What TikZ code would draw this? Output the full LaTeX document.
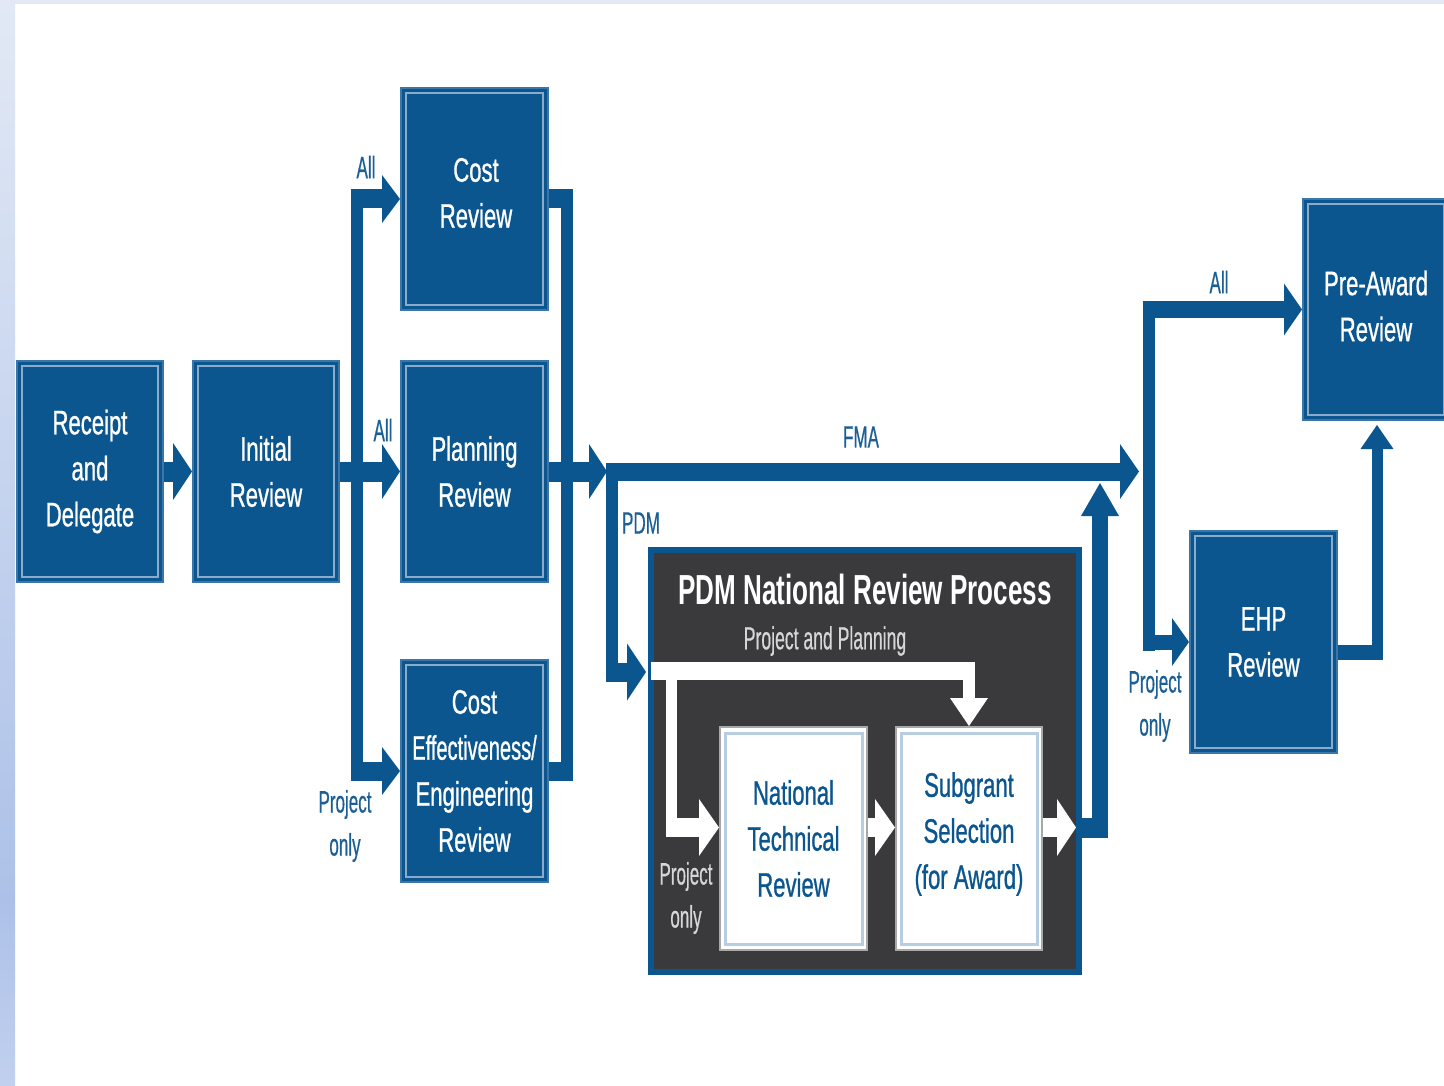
\documentclass[tikz,border=0pt]{standalone}
\usepackage{fontspec}
\setmainfont{Liberation Sans}[FakeStretch=0.65,FakeBold=0.8]
\newfontfamily\lblfont{Liberation Sans}[FakeStretch=0.55,FakeBold=0.4]
\newfontfamily\ttlfont{Liberation Sans}[FakeStretch=0.62]
\newfontfamily\narrowfont{Liberation Sans}[FakeStretch=0.59,FakeBold=0.8]
\usetikzlibrary{arrows.meta,calc}
\definecolor{fblue}{HTML}{0B568F}
\definecolor{edgeblue}{HTML}{3A77A8}
\definecolor{innerblue}{HTML}{8AACCA}
\definecolor{lblblue}{HTML}{1A5F96}
\definecolor{darkfill}{HTML}{3A3A3C}
\definecolor{lgray}{HTML}{D6D6D6}
\definecolor{wbinner}{HTML}{B7CDE1}
\definecolor{wbedge}{HTML}{A8A8A8}
\definecolor{bgA}{HTML}{E2E9F5}
\definecolor{bgB}{HTML}{ADC1E8}
\definecolor{bgC}{HTML}{C1D0EE}
\tikzset{
 bluebox/.style={fill=fblue, draw=edgeblue, line width=2pt, inner sep=0pt, text=white, align=center,
   font=\fontsize{34}{46}\selectfont, minimum width=146pt, minimum height=221pt},
 whitebox/.style={fill=white, draw=wbedge, line width=2pt, inner sep=0pt, text=fblue, align=center,
   font=\fontsize{34}{46}\selectfont, minimum width=146pt, minimum height=222pt},
 lbl/.style={text=lblblue, font=\lblfont\fontsize{31}{43}\selectfont, align=center, inner sep=0pt},
 bbar/.style={draw=fblue, line width=#1},
 wbar/.style={draw=white, line width=#1},
 tipped/.style n args={2}{-{Triangle[width=#1,length=#2,line width=0pt]}},
}
\begin{document}
\begin{tikzpicture}[x=1pt,y=-1pt]
\useasboundingbox (0,0) rectangle (1444,1086);
\fill[white] (0,0) rectangle (1444,1086);
\fill[bgA] (0,0) rectangle (1444,4);
\shade[top color=bgA, bottom color=bgB] (0,0) rectangle (15,900);
\shade[top color=bgB, bottom color=bgC] (0,900) rectangle (15,1086);

% PDM container
\node[fill=darkfill, draw=fblue, line width=6pt, minimum width=428pt, minimum height=422pt, inner sep=0pt] (db) at (864.5,761) {};
\node[text=white, font=\ttlfont\bfseries\fontsize{42}{50}\selectfont, inner sep=0pt] (title) at (865,589) {PDM National Review Process};
\node[lbl, text=lgray, font=\lblfont\fontsize{32}{43}\selectfont] (pp) at (825,641) {Project and Planning};

% boxes
\node[bluebox] (rd) at (90,471.5) {Receipt\\and\\Delegate};
\node[bluebox] (ir) at (266,471.5) {Initial\\Review};
\node[bluebox, minimum width=147pt, minimum height=222pt] (cr) at (474.5,199) {};
\node[text=white, align=center, font=\fontsize{34}{46}\selectfont, inner sep=0pt] (crt) at (476,193) {Cost\\Review};
\node[bluebox, minimum width=147pt] (pr) at (474.5,471.5) {Planning\\Review};
\node[bluebox, minimum width=147pt, minimum height=222pt] (ce) at (474.5,771) {Cost\\{\narrowfont Effectiveness/}\\Engineering\\Review};
\node[bluebox] (pa) at (1376,309.5) {};
\node[text=white, align=center, font=\fontsize{34}{46}\selectfont, inner sep=0pt] (pat) at (1376,306) {Pre-Award\\Review};
\node[bluebox, minimum width=147pt, minimum height=222pt] (ehp) at (1263.5,642) {EHP\\Review};
\node[whitebox, minimum width=147pt, minimum height=223pt] (ntr) at (793.5,838.5) {National\\Technical\\Review};
\node[whitebox, minimum height=223pt] (ss) at (969,838.5) {};
\node[text=fblue, align=center, font=\fontsize{34}{46}\selectfont, inner sep=0pt] (sst) at (969,834) {Subgrant\\Selection\\(for Award)};

\foreach \n in {rd,ir,cr,pr,ce,pa,ehp}
  \draw[draw=innerblue, line width=2.5pt] ([shift={(6,6)}]\n.north west) rectangle ([shift={(-6,-6)}]\n.south east);
\foreach \n in {ntr,ss}
  \draw[draw=wbinner, line width=3pt] ([shift={(6,7)}]\n.north west) rectangle ([shift={(-6,-7)}]\n.south east);

% coordinates
\coordinate (lbTop) at (351,199);
\coordinate (lbBot) at (351,771);
\coordinate (lbV1) at (357,190);
\coordinate (lbV2) at (357,781);
\coordinate (rbV1) at (567,190);
\coordinate (rbV2) at (567,781);
\coordinate (rbTop) at (573,199);
\coordinate (rbBot) at (573,771);
\coordinate (split) at (607,471.5);
\coordinate (fmaStart) at (606,471.5);
\coordinate (fmaEnd) at (1139,471.5);
\coordinate (pdmV1) at (612,462.5);
\coordinate (pdmV2) at (612,681.5);
\coordinate (pdmArm) at (606,672);
\coordinate (pdmEnd) at (646,672);
\coordinate (ppStart) at (651,671);
\coordinate (ppEnd) at (975,671);
\coordinate (ppDown) at (969,662);
\coordinate (poV1) at (671.5,662);
\coordinate (poV2) at (671.5,837);
\coordinate (poArm) at (666,827.5);
\coordinate (ssOut) at (1076,827.5);
\coordinate (upCorner) at (1108,827.5);
\coordinate (upStart) at (1100,837.5);
\coordinate (upTip) at (1100,483);
\coordinate (rbus1) at (1148.5,303);
\coordinate (rbus2) at (1148.5,651);
\coordinate (paArm) at (1142.5,309.5);
\coordinate (ehpArm) at (1142.5,642);
\coordinate (ehpOut) at (1383,652);
\coordinate (paUp1) at (1377,659.5);
\coordinate (paUpTip) at (1377,425);

% left fan-out
\draw[bbar=12pt] (lbV1) -- (lbV2);
\draw[bbar=19pt, tipped={48pt}{18pt}] (lbTop) -- (cr.west);
\draw[bbar=19pt, tipped={48pt}{18pt}] (lbBot) -- (ce.west);
\draw[bbar=20pt, tipped={57pt}{19pt}] (rd.east) -- (ir.west);
\draw[bbar=20pt, tipped={55pt}{18pt}] (ir.east) -- (pr.west);
% right bracket
\draw[bbar=12pt] (rbV1) -- (rbV2);
\draw[bbar=19pt] (cr.east) -- (rbTop);
\draw[bbar=19pt] (ce.east) -- (rbBot);
\draw[bbar=20pt, tipped={55pt}{18pt}] (pr.east) -- (split);
% FMA / PDM
\draw[bbar=18pt, tipped={55pt}{19pt}] (fmaStart) -- (fmaEnd);
\draw[bbar=12pt] (pdmV1) -- (pdmV2);
\draw[bbar=19pt, tipped={57pt}{19pt}] (pdmArm) -- (pdmEnd);
% inside PDM
\draw[wbar=18pt] (ppStart) -- (ppEnd);
\draw[wbar=12pt, tipped={38pt}{28pt}] (ppDown) -- (ss.north);
\draw[wbar=11.5pt] (poV1) -- (poV2);
\draw[wbar=19pt, tipped={57pt}{20pt}] (poArm) -- ($(ntr.west)+(0,-11)$);
\draw[wbar=19pt, tipped={57pt}{20pt}] ($(ntr.east)+(0,-11)$) -- ($(ss.west)+(0,-11)$);
\draw[wbar=19pt, tipped={57pt}{19pt}] ($(ss.east)+(0,-11)$) -- (ssOut);
\draw[bbar=20pt] (ssOut) -- (upCorner);
\draw[bbar=16pt, tipped={38pt}{33pt}] (upStart) -- (upTip);
% right side
\draw[bbar=12pt] (rbus1) -- (rbus2);
\draw[bbar=16pt, tipped={52pt}{18pt}] (paArm) -- (pa.west);
\draw[bbar=15pt, tipped={48pt}{17pt}] (ehpArm) -- (ehp.west);
\draw[bbar=15pt] ($(ehp.east)+(0,10)$) -- (ehpOut);
\draw[bbar=11pt, tipped={33pt}{24pt}] (paUp1) -- (paUpTip);

% labels
\node[lbl] (allA) at (366,167) {All};
\node[lbl] (allB) at (383,430) {All};
\node[lbl] (po1) at (345,826) {Project\\only};
\node[lbl] (fma) at (861,437) {FMA};
\node[lbl] (pdm) at (641,523) {PDM};
\node[lbl] (allC) at (1219,282) {All};
\node[lbl] (po2) at (1155,706) {Project\\only};
\node[lbl, text=lgray] (po3) at (686,898) {Project\\only};
\end{tikzpicture}
\end{document}
